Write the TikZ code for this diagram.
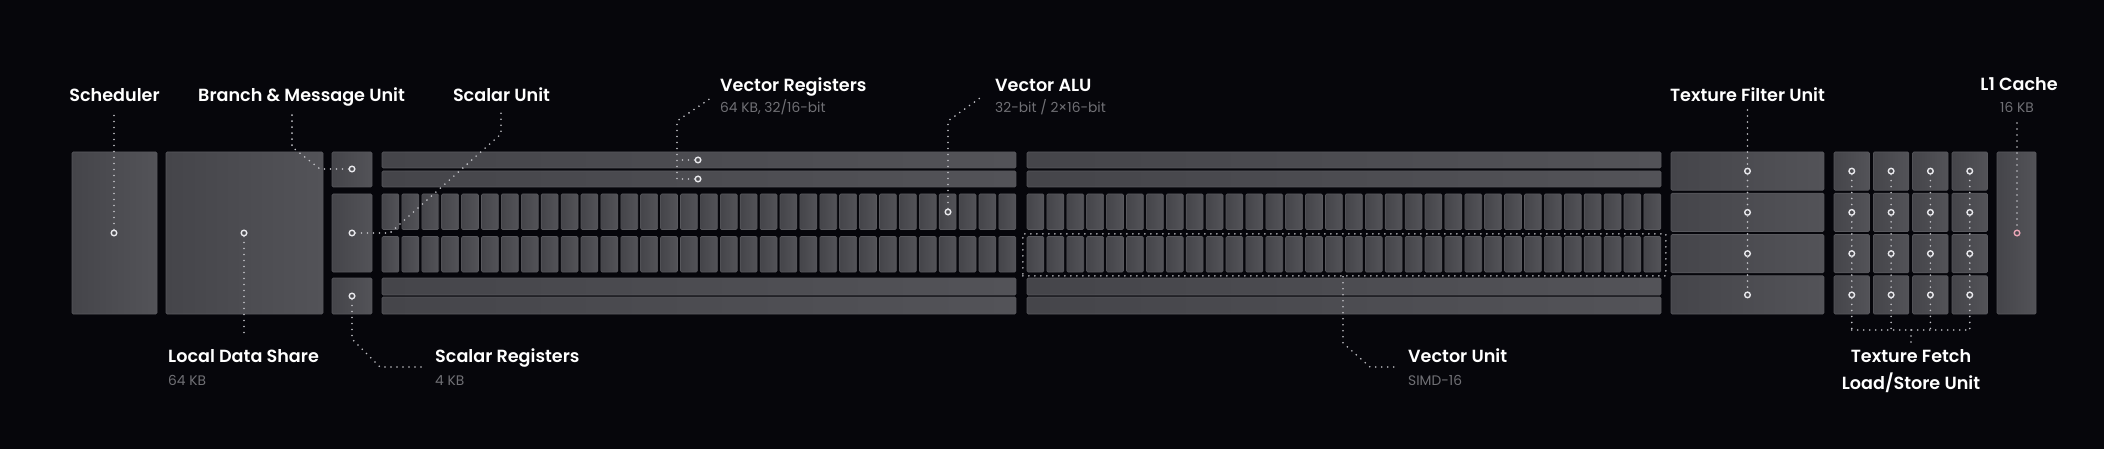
\documentclass[tikz,border=0pt]{standalone}
\usepackage{fontspec}
\setmainfont{Poppins}
\newfontfamily\ttlfont{Poppins SemiBold}
\definecolor{bg}{HTML}{06060B}
\definecolor{boxL}{HTML}{45454A}
\definecolor{boxR}{HTML}{535358}
\definecolor{boxmid}{HTML}{4C4C51}
\definecolor{boxedge}{HTML}{58585D}
\definecolor{leadcol}{HTML}{C2C2C7}
\definecolor{ringcol}{HTML}{E8E8EC}
\definecolor{subcol}{HTML}{707075}
\definecolor{pinkdot}{HTML}{E9A6B6}
\tikzset{
  blk/.style={draw=boxedge, line width=0.6pt, rounded corners=1.2pt, left color=boxL, right color=boxR},
  blknode/.style={blk, rectangle, inner sep=0pt, outer sep=0pt, anchor=north west},
  dotc/.style={circle, draw=ringcol, line width=1.4pt, fill=boxmid, minimum size=5.6pt, inner sep=0pt},
  leader/.style={draw=leadcol, line width=1.8pt, line cap=round, dash pattern=on 0pt off 6pt},
  ttl/.style={text=white, font=\ttlfont\fontsize{17.6}{20}\selectfont, inner sep=0pt},
  subt/.style={text=subcol, font=\fontsize{13.8}{16}\selectfont, inner sep=0pt},
}
\newcommand{\mybox}[5]{\node[blknode, minimum width={#4pt-#2pt}, minimum height={#5pt-#3pt}] (#1) at (#2,#3) {};}
\begin{document}
\begin{tikzpicture}[x=1pt,y=-1pt]
\fill[bg] (0,0) rectangle (2104,449);
\useasboundingbox (0,0) rectangle (2104,449);

% ---- left boxes
\mybox{sched}{72}{152}{157}{314}
\mybox{lds}{166}{152}{323}{314}
\mybox{bmu}{332}{152}{372}{187}
\mybox{su}{332}{194}{372}{272}
\mybox{sr}{332}{278}{372}{314}

% ---- vector register bars
\foreach \bx/\nm in {382/L,1027/R}{
  \mybox{vrA\nm}{\bx}{152}{\bx+634}{168}
  \mybox{vrB\nm}{\bx}{171}{\bx+634}{187}
  \mybox{vrC\nm}{\bx}{278}{\bx+634}{295}
  \mybox{vrD\nm}{\bx}{297}{\bx+634}{314}
  \foreach \i in {0,...,31}{
    \pgfmathsetmacro\xa{\bx+\i*19.9}
    \pgfmathsetmacro\xb{\xa+16.9}
    \path[blk] (\xa,194) rectangle (\xb,229.5);
    \path[blk] (\xa,236.5) rectangle (\xb,272);
  }
}

% ---- texture filter / fetch / L1
\foreach \r/\ya/\yb in {1/152/190.25,2/193.25/231.5,3/234.5/272.75,4/275.75/314}{
  \mybox{tfb\r}{1671}{\ya}{1824}{\yb}
  \foreach \c/\xa in {1/1834,2/1873.33,3/1912.67,4/1952}{
    \mybox{tfe\c\r}{\xa}{\ya}{\xa+35.5}{\yb}
  }
}
\mybox{l1}{1997}{152}{2036}{314}

% ---- vector unit outline
\node[draw=leadcol, line width=1.8pt, line cap=round, dash pattern=on 0pt off 6pt, rectangle, inner sep=0pt, minimum width=643pt, minimum height=42pt, anchor=north west] (vu) at (1022,233) {};

% ---- dots
\node[dotc] (dSched) at (114,233) {};
\node[dotc] (dLds) at (244,233) {};
\node[dotc] (dBmu) at (352,169) {};
\node[dotc] (dSu) at (352,233) {};
\node[dotc] (dSr) at (352,296) {};
\node[dotc] (dVr1) at (698,160) {};
\node[dotc] (dVr2) at (698,179) {};
\node[dotc] (dValu) at (948,212) {};
\foreach \r/\yy in {1/171.1,2/212.4,3/253.6,4/294.9}{
  \node[dotc] (dTf\r) at (1747.5,\yy) {};
  \foreach \c/\xx in {1/1851.75,2/1891.1,3/1930.4,4/1969.75}{
    \node[dotc] (dFe\c\r) at (\xx,\yy) {};
  }
}
\node[dotc, draw=pinkdot] (dL1) at (2017,233) {};

% ---- leader end coordinates
\coordinate (cSched) at (114,110);
\coordinate (cLds) at (244,336);
\coordinate (cBmu) at (292,110);
\coordinate (cSu) at (501,110);
\coordinate (cSr) at (425,367);
\coordinate (cVr) at (711,98);
\coordinate (cValu) at (980,98);
\coordinate (cVu) at (1398,367);
\coordinate (cTf) at (1747.5,110);
\coordinate (cL1) at (2017,123);
\coordinate (cFe) at (1911,342);

% ---- leaders
\draw[leader] (dSched) -- (cSched);
\draw[leader] (dLds) -- (cLds);
\draw[leader] (dBmu) -- (320,169) -- (292,147) -- (cBmu);
\draw[leader] (dSu) -- (390,233) -- (501,134) -- (cSu);
\draw[leader] (dSr) -- (352,339) -- (380,367) -- (cSr);
\draw[leader] (dVr2) -- (677,179) -- (677,121) -- (cVr);
\draw[leader] (dVr1) -- (677,160);
\draw[leader] (dValu) -- (948,121) -- (cValu);
\draw[leader] (vu.south -| 1343,0) -- (1343,343) -- (1370,367) -- (cVu);
\draw[leader] (cTf) -- (dTf1) -- (dTf2) -- (dTf3) -- (dTf4);
\foreach \c/\xx in {1/1851.75,2/1891.1,3/1930.4,4/1969.75}{
  \draw[leader] (dFe\c1) -- (dFe\c2) -- (dFe\c3) -- (dFe\c4) -- (\xx,330);
}
\draw[leader] (1851.75,330) -- (1969.75,330);
\draw[leader] (1911,330) -- (cFe);
\draw[leader] (cL1) -- (dL1);

% ---- labels
\node[ttl, anchor=base] (tSched) at (114.5,101.5) {Scheduler};
\node[ttl, anchor=base west] (tBmu) at (198,101.5) {Branch \& Message Unit};
\node[ttl, anchor=base] (tSu) at (501.5,101.5) {Scalar Unit};
\node[ttl, anchor=base west] (tVr) at (720,91.5) {Vector Registers};
\node[subt, anchor=base west] (sVr) at (720,113) {64 KB, 32/16-bit};
\node[ttl, anchor=base west] (tValu) at (995,91.5) {Vector ALU};
\node[subt, anchor=base west] (sValu) at (995,113) {32-bit / 2×16-bit};
\node[ttl, anchor=base] (tTf) at (1747.5,101.5) {Texture Filter Unit};
\node[ttl, anchor=base] (tL1) at (2019,91) {L1 Cache};
\node[subt, anchor=base] (sL1) at (2017,113) {16 KB};

\node[ttl, anchor=base west] (tLds) at (168,362.5) {Local Data Share};
\node[subt, anchor=base west] (sLds) at (168,385) {64 KB};
\node[ttl, anchor=base west] (tSr) at (435,362.5) {Scalar Registers};
\node[subt, anchor=base west] (sSr) at (435,385) {4 KB};
\node[ttl, anchor=base west] (tVu) at (1408,362.5) {Vector Unit};
\node[subt, anchor=base west] (sVu) at (1408,385.5) {SIMD-16};
\node[ttl, anchor=base] (tFe) at (1911,362.5) {Texture Fetch};
\node[ttl, anchor=base] (tFe2) at (1911,389) {Load/Store Unit};
\end{tikzpicture}
\end{document}
